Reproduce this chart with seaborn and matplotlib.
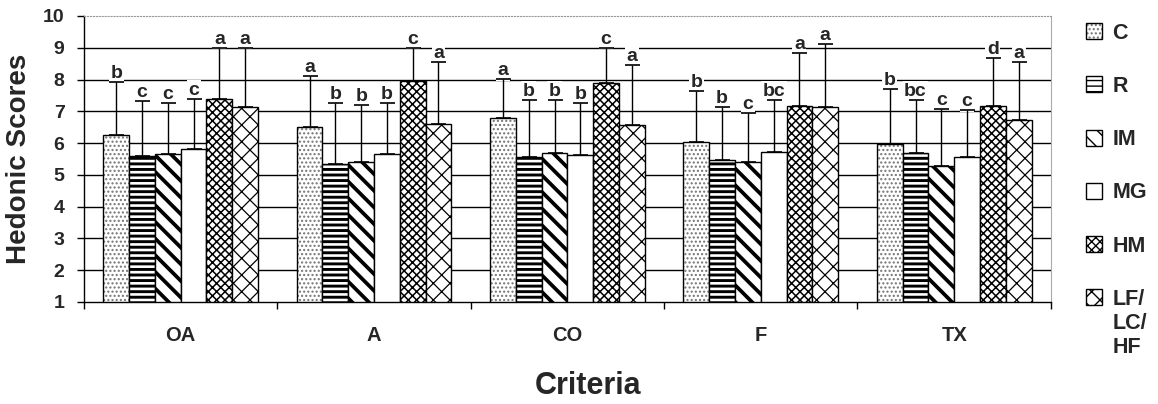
import numpy as np
import pandas as pd
import matplotlib
matplotlib.use("Agg")
import matplotlib.pyplot as plt
import seaborn as sns
from matplotlib.ticker import FixedLocator

# ---------------- data ----------------
criteria = ["OA", "A", "CO", "F", "TX"]
treatments = ["C", "R", "IM", "MG", "HM", "LF/\nLC/\nHF"]

score_C = [6.26, 6.50, 6.79, 6.04, 5.96]
score_R = [5.59, 5.35, 5.55, 5.46, 5.69]
score_IM = [5.66, 5.40, 5.69, 5.41, 5.29]
score_MG = [5.80, 5.66, 5.63, 5.73, 5.55]
score_HM = [7.39, 7.96, 7.88, 7.18, 7.18]
score_LF = [7.13, 6.59, 6.56, 7.14, 6.73]

sd_C = [1.66, 1.61, 1.22, 1.61, 1.73]
sd_R = [1.73, 1.91, 1.82, 1.68, 1.68]
sd_IM = [1.60, 1.79, 1.68, 1.54, 1.79]
sd_MG = [1.60, 1.60, 1.64, 1.64, 1.49]
sd_HM = [1.61, 1.04, 1.12, 1.64, 1.51]
sd_LF = [1.87, 1.95, 1.89, 1.99, 1.82]

let_C = ["b", "a", "a", "b", "b"]
let_R = ["c", "b", "b", "b", "bc"]
let_IM = ["c", "b", "b", "c", "c"]
let_MG = ["c", "b", "b", "bc", "c"]
let_HM = ["a", "c", "c", "a", "d"]
let_LF = ["a", "a", "a", "a", "a"]

scores = [score_C, score_R, score_IM, score_MG, score_HM, score_LF]
sds = [sd_C, sd_R, sd_IM, sd_MG, sd_HM, sd_LF]
letters = [let_C, let_R, let_IM, let_MG, let_HM, let_LF]

rows = []
for t, sc in zip(treatments, scores):
    for c, v in zip(criteria, sc):
        rows.append({"criteria": c, "treatment": t, "score": v})
df = pd.DataFrame(rows)

# ---------------- style ----------------
sns.set_style("white")
plt.rcParams["font.family"] = ["Liberation Sans", "DejaVu Sans"]
plt.rcParams["hatch.linewidth"] = 1.0

fig = plt.figure(figsize=(11.58, 4.04), dpi=100)
ax = fig.add_axes([0.0725, 0.2525, 0.835, 0.708])

sns.barplot(data=df, x="criteria", y="score", hue="treatment",
            order=criteria, hue_order=treatments,
            palette=["white"] * 6, edgecolor="black", linewidth=1.0,
            errorbar=None, width=0.8, legend=False, ax=ax, zorder=2)

bar_groups = list(ax.containers)

hatches = ["....", "---", "\\\\", "", "xxxx", "xx"]
hatch_lw = [1.0, 2.1, 2.7, 1.0, 1.1, 0.9]
hatch_col = [(0.45, 0.45, 0.45, 1), None, None, None, None, None]

for i, cont in enumerate(bar_groups):
    for bar in cont:
        bar.set_hatch(hatches[i])
        if hasattr(bar, "set_hatch_linewidth"):
            bar.set_hatch_linewidth(hatch_lw[i])
        if hatch_col[i] is not None:
            bar._hatch_color = hatch_col[i]

# error bars (upper only) and significance letters
for i, cont in enumerate(bar_groups):
    xs = [b.get_x() + b.get_width() / 2 for b in cont]
    hs = [b.get_height() for b in cont]
    err = sds[i]
    ax.errorbar(xs, hs, yerr=[np.zeros(len(err)), err], fmt="none",
                ecolor="black", elinewidth=1.0, capsize=5.4, capthick=1.2,
                zorder=5)
    for x, h, e, lt in zip(xs, hs, err, letters[i]):
        ax.annotate(lt, (x, h + e), xytext=(0, 0), textcoords="offset points",
                    ha="center", va="bottom", fontsize=14, fontweight="bold",
                    bbox=dict(boxstyle="square,pad=0.08", fc="white", ec="none"),
                    zorder=4)

# axes
ax.set_ylim(1, 10)
ax.set_xlim(-0.5, 4.5)
ax.set_yticks(range(1, 11))
ax.yaxis.set_minor_locator(FixedLocator(list(range(2, 10))))
ax.yaxis.remove_overlapping_locs = False
ax.yaxis.grid(True, which="minor", color="black", linewidth=1.0)
ax.yaxis.grid(False, which="major")
ax.set_axisbelow(True)
ax.tick_params(axis="y", which="major", length=5, direction="out", width=1,
               labelsize=14, pad=9, color="black", left=True)
ax.tick_params(axis="y", which="minor", length=0)
for lbl in ax.get_yticklabels():
    lbl.set_fontweight("bold")

ax.xaxis.set_minor_locator(FixedLocator([-0.5, 0.5, 1.5, 2.5, 3.5, 4.5]))
ax.tick_params(axis="x", which="major", length=0, pad=17, labelsize=14.5)
ax.tick_params(axis="x", which="minor", length=5, direction="out", width=1,
               color="black", bottom=True)
for lbl in ax.get_xticklabels():
    lbl.set_fontweight("bold")

ax.set_ylabel("Hedonic Scores", fontsize=20, fontweight="bold", labelpad=8)
ax.set_xlabel("Criteria", fontsize=22, fontweight="bold")
ax.xaxis.set_label_coords(0.521, -0.24)

for s in ["left", "bottom"]:
    ax.spines[s].set_color("black")
    ax.spines[s].set_linewidth(1.0)
ax.spines["top"].set_color("#999999")
ax.spines["top"].set_linestyle(":")
ax.spines["right"].set_color("#aaaaaa")
ax.spines["right"].set_linewidth(0.8)

handles = [cont.patches[0] for cont in bar_groups]
leg = ax.legend(handles, treatments, loc="upper left",
                bbox_to_anchor=(1.027, 1.007),
                frameon=False, prop=dict(weight="bold", size=15.5),
                handlelength=0.75, handleheight=0.75, handletextpad=0.5,
                labelspacing=1.5, borderaxespad=0)
try:
    column = leg._legend_handle_box.get_children()[0]
    column.get_children()[-1].align = "top"
except Exception:
    pass

fig.savefig("out.png", dpi=100)
